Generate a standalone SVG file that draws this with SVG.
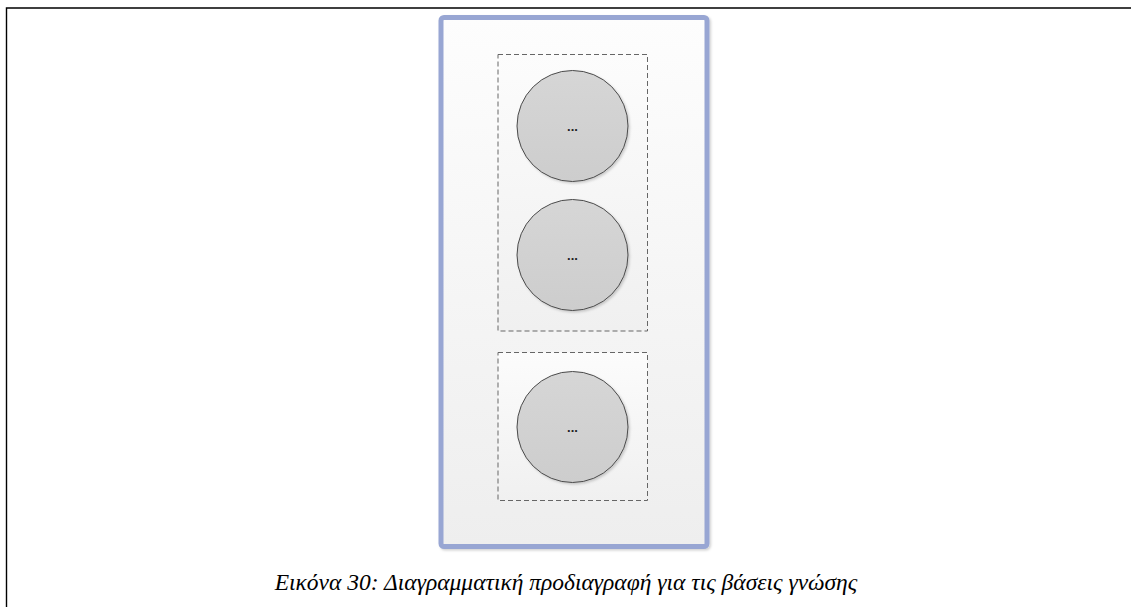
<svg xmlns="http://www.w3.org/2000/svg" width="1131" height="607" viewBox="0 0 1131 607">
  <style>
    .frame { fill: none; stroke: #000; stroke-width: 1.4; }
    .group { stroke: #666; stroke-width: 1; stroke-dasharray: 5 3; fill: url(#boxFill); }
    .node { fill: url(#nodeFill); stroke: #4a4a4a; stroke-width: 1; filter: url(#shadow); }
    .dots { font-family: "Liberation Sans", Arial, sans-serif; font-size: 13px; font-weight: bold; fill: #222; text-anchor: middle; }
    .caption { font-family: "Liberation Serif", "Times New Roman", serif; font-style: italic; font-size: 23.5px; fill: #000; text-anchor: middle; }
  </style>
  <defs>
    <linearGradient id="panelFill" x1="0" y1="0" x2="0" y2="1">
      <stop offset="0" stop-color="#fdfdfd"/>
      <stop offset="1" stop-color="#eeeeee"/>
    </linearGradient>
    <linearGradient id="boxFill" x1="0" y1="0" x2="0" y2="1">
      <stop offset="0" stop-color="#fcfcfc"/>
      <stop offset="1" stop-color="#f0f0f0"/>
    </linearGradient>
    <linearGradient id="nodeFill" x1="0" y1="0" x2="0" y2="1">
      <stop offset="0" stop-color="#d6d6d6"/>
      <stop offset="1" stop-color="#cdcdcd"/>
    </linearGradient>
    <filter id="shadow" x="-10%" y="-10%" width="125%" height="125%">
      <feDropShadow dx="1.5" dy="1.5" stdDeviation="1.2" flood-color="#000" flood-opacity="0.18"/>
    </filter>
  </defs>

  <!-- page frame -->
  <path class="frame" d="M6.5 607 V8 H1131"/>

  <!-- outer container -->
  <g id="container">
    <rect x="441" y="17.5" width="266" height="529" rx="3" fill="url(#panelFill)" stroke="#98a6d3" stroke-width="5" filter="url(#shadow)"/>
  </g>

  <!-- dashed groups -->
  <g id="group-top">
    <rect class="group" x="498" y="54.5" width="149.5" height="276.5"/>
  </g>
  <g id="group-bottom">
    <rect class="group" x="498" y="352.5" width="149.5" height="148"/>
  </g>

  <!-- nodes -->
  <g id="node-1">
    <circle class="node" cx="572.5" cy="126" r="55.5"/>
    <text class="dots" x="572.5" y="131">...</text>
  </g>
  <g id="node-2">
    <circle class="node" cx="572.5" cy="255" r="55.5"/>
    <text class="dots" x="572.5" y="260">...</text>
  </g>
  <g id="node-3">
    <circle class="node" cx="572.5" cy="427" r="55.5"/>
    <text class="dots" x="572.5" y="432">...</text>
  </g>

  <g id="connectors"></g>

  <text class="caption" x="566" y="590">Εικόνα 30: Διαγραμματική προδιαγραφή για τις βάσεις γνώσης</text>
</svg>
